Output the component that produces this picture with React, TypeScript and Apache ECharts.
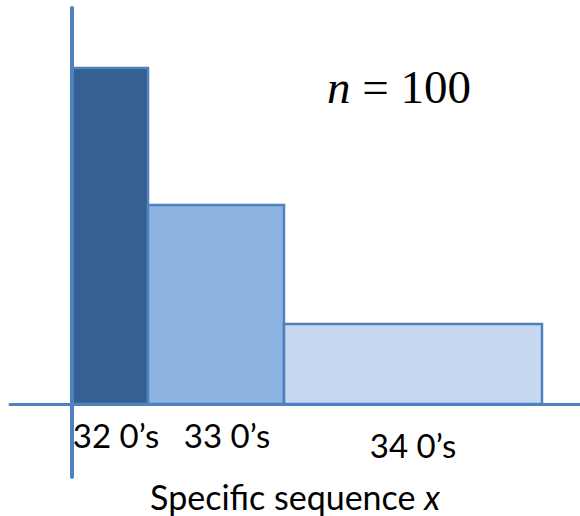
import React, { useEffect, useRef } from "react";
import * as echarts from "echarts";

// Categories (number of zeros in the sequence)
const categories = ["32 0’s", "33 0’s", "34 0’s"];
// Width of each block (relative number of sequences)
const widths = [7.65, 13.6, 25.8];
// Height of each block (relative probability of a specific sequence)
const heights = [8.4, 4.975, 2.0];

const xTitle = "Specific sequence ";
const xTitleVar = "x";
const annotationVar = "n";
const annotationRest = " = 100";

const COLORS = ["#366092", "#8db3e2", "#c6d9f1"];
const AXIS_COLOR = "#4f81bd";

export default function App() {
  const ref = useRef<HTMLDivElement>(null);

  useEffect(() => {
    if (!ref.current) return;
    const chart = echarts.init(ref.current, null, { renderer: "svg" });

    let cum = 0;
    const data = widths.map((w, i) => {
      const item = [cum, cum + w, heights[i], i];
      cum += w;
      return item;
    });

    const labelPos = [
      [116, 435],
      [227, 435],
      [413, 445],
    ];

    chart.setOption({
      animation: false,
      grid: { left: 10, right: 0, top: 8, bottom: 39 },
      xAxis: {
        type: "value",
        min: -6.15,
        max: 50.85,
        z: 10,
        axisLine: { show: true, onZero: true, lineStyle: { color: AXIS_COLOR, width: 3 } },
        axisTick: { show: false },
        axisLabel: { show: false },
        splitLine: { show: false },
      },
      yAxis: {
        type: "value",
        min: -1.825,
        max: 9.9,
        z: 10,
        axisLine: { show: true, onZero: true, lineStyle: { color: AXIS_COLOR, width: 4 } },
        axisTick: { show: false },
        axisLabel: { show: false },
        splitLine: { show: false },
      },
      series: [
        {
          type: "custom",
          data,
          encode: { x: [0, 1], y: 2 },
          renderItem: (params: any, api: any) => {
            const x0 = api.value(0);
            const x1 = api.value(1);
            const h = api.value(2);
            const idx = api.value(3);
            const p0 = api.coord([x0, h]);
            const p1 = api.coord([x1, 0]);
            return {
              type: "rect",
              shape: { x: p0[0], y: p0[1], width: p1[0] - p0[0], height: p1[1] - p0[1] },
              style: { fill: COLORS[idx], stroke: AXIS_COLOR, lineWidth: 2.5 },
            };
          },
        },
      ],
      graphic: [
        ...categories.map((c, i) => ({
          type: "text",
          x: labelPos[i][0],
          y: labelPos[i][1],
          style: {
            text: c,
            fill: "#000",
            font: "33px Lato",
            align: "center",
            verticalAlign: "middle",
          },
        })),
        {
          type: "text",
          x: 295,
          y: 496,
          style: {
            text: `{a|${xTitle}}{b|${xTitleVar}}`,
            align: "center",
            verticalAlign: "middle",
            rich: {
              a: { fontFamily: "Lato", fontSize: 34, fill: "#000" },
              b: { fontFamily: "Lato", fontSize: 34, fontStyle: "italic", fill: "#000" },
            },
          },
        },
        {
          type: "text",
          x: 399,
          y: 87,
          style: {
            text: `{a|${annotationVar}}{b|${annotationRest}}`,
            align: "center",
            verticalAlign: "middle",
            rich: {
              a: { fontFamily: "Liberation Serif", fontSize: 47, fontStyle: "italic", fill: "#000" },
              b: { fontFamily: "Liberation Serif", fontSize: 47, fill: "#000" },
            },
          },
        },
      ],
    });

    return () => chart.dispose();
  }, []);

  return (
    <div
      ref={ref}
      style={{ position: "absolute", left: 0, top: 0, width: 580, height: 516 }}
    />
  );
}
